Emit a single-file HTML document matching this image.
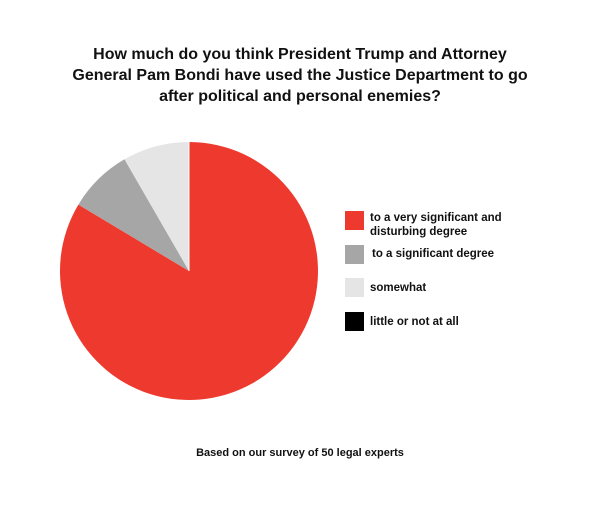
<!DOCTYPE html>
<html><head><meta charset="utf-8"><style>
body{margin:0;background:#fff;}
.w{position:relative;width:600px;height:505px;font-family:"Liberation Sans",sans-serif;color:#111;}
.t{position:absolute;left:0;width:600px;top:44px;text-align:center;font-weight:bold;font-size:16px;line-height:21px;}
.lg{position:absolute;font-size:11.5px;font-weight:bold;line-height:14px;}
.sq{position:absolute;width:19px;height:19px;}
.f{position:absolute;left:0;width:600px;top:447px;text-align:center;font-size:11px;font-weight:bold;}
</style></head><body><div class="w">
<div class="t">How much do you think President Trump and Attorney<br>General Pam Bondi have used the Justice Department to go<br>after political and personal enemies?</div>
<svg width="600" height="505" style="position:absolute;left:0;top:0">
<path d="M189,271 L189,142 A129,129 0 1 1 78.4,204.6 Z" fill="#ee3a2e"/>
<path d="M189,271 L78.4,204.6 A129,129 0 0 1 124.5,159.3 Z" fill="#a6a6a6"/>
<path d="M189,271 L124.5,159.3 A129,129 0 0 1 189,142 Z" fill="#e5e5e5"/>
<line x1="189" y1="271" x2="189" y2="142" stroke="#fff" stroke-width="1"/>
</svg>
<div class="sq" style="left:345px;top:211px;background:#ee3a2e"></div>
<div class="sq" style="left:345px;top:245px;background:#a6a6a6"></div>
<div class="sq" style="left:345px;top:278px;background:#e5e5e5"></div>
<div class="sq" style="left:345px;top:312px;background:#000"></div>
<div class="lg" style="left:370px;top:211px">to a very significant and<br>disturbing degree</div>
<div class="lg" style="left:372px;top:247px">to a significant degree</div>
<div class="lg" style="left:370px;top:281px">somewhat</div>
<div class="lg" style="left:370px;top:315px">little or not at all</div>
<div class="f">Based on our survey of 50 legal experts</div>
</div></body></html>
